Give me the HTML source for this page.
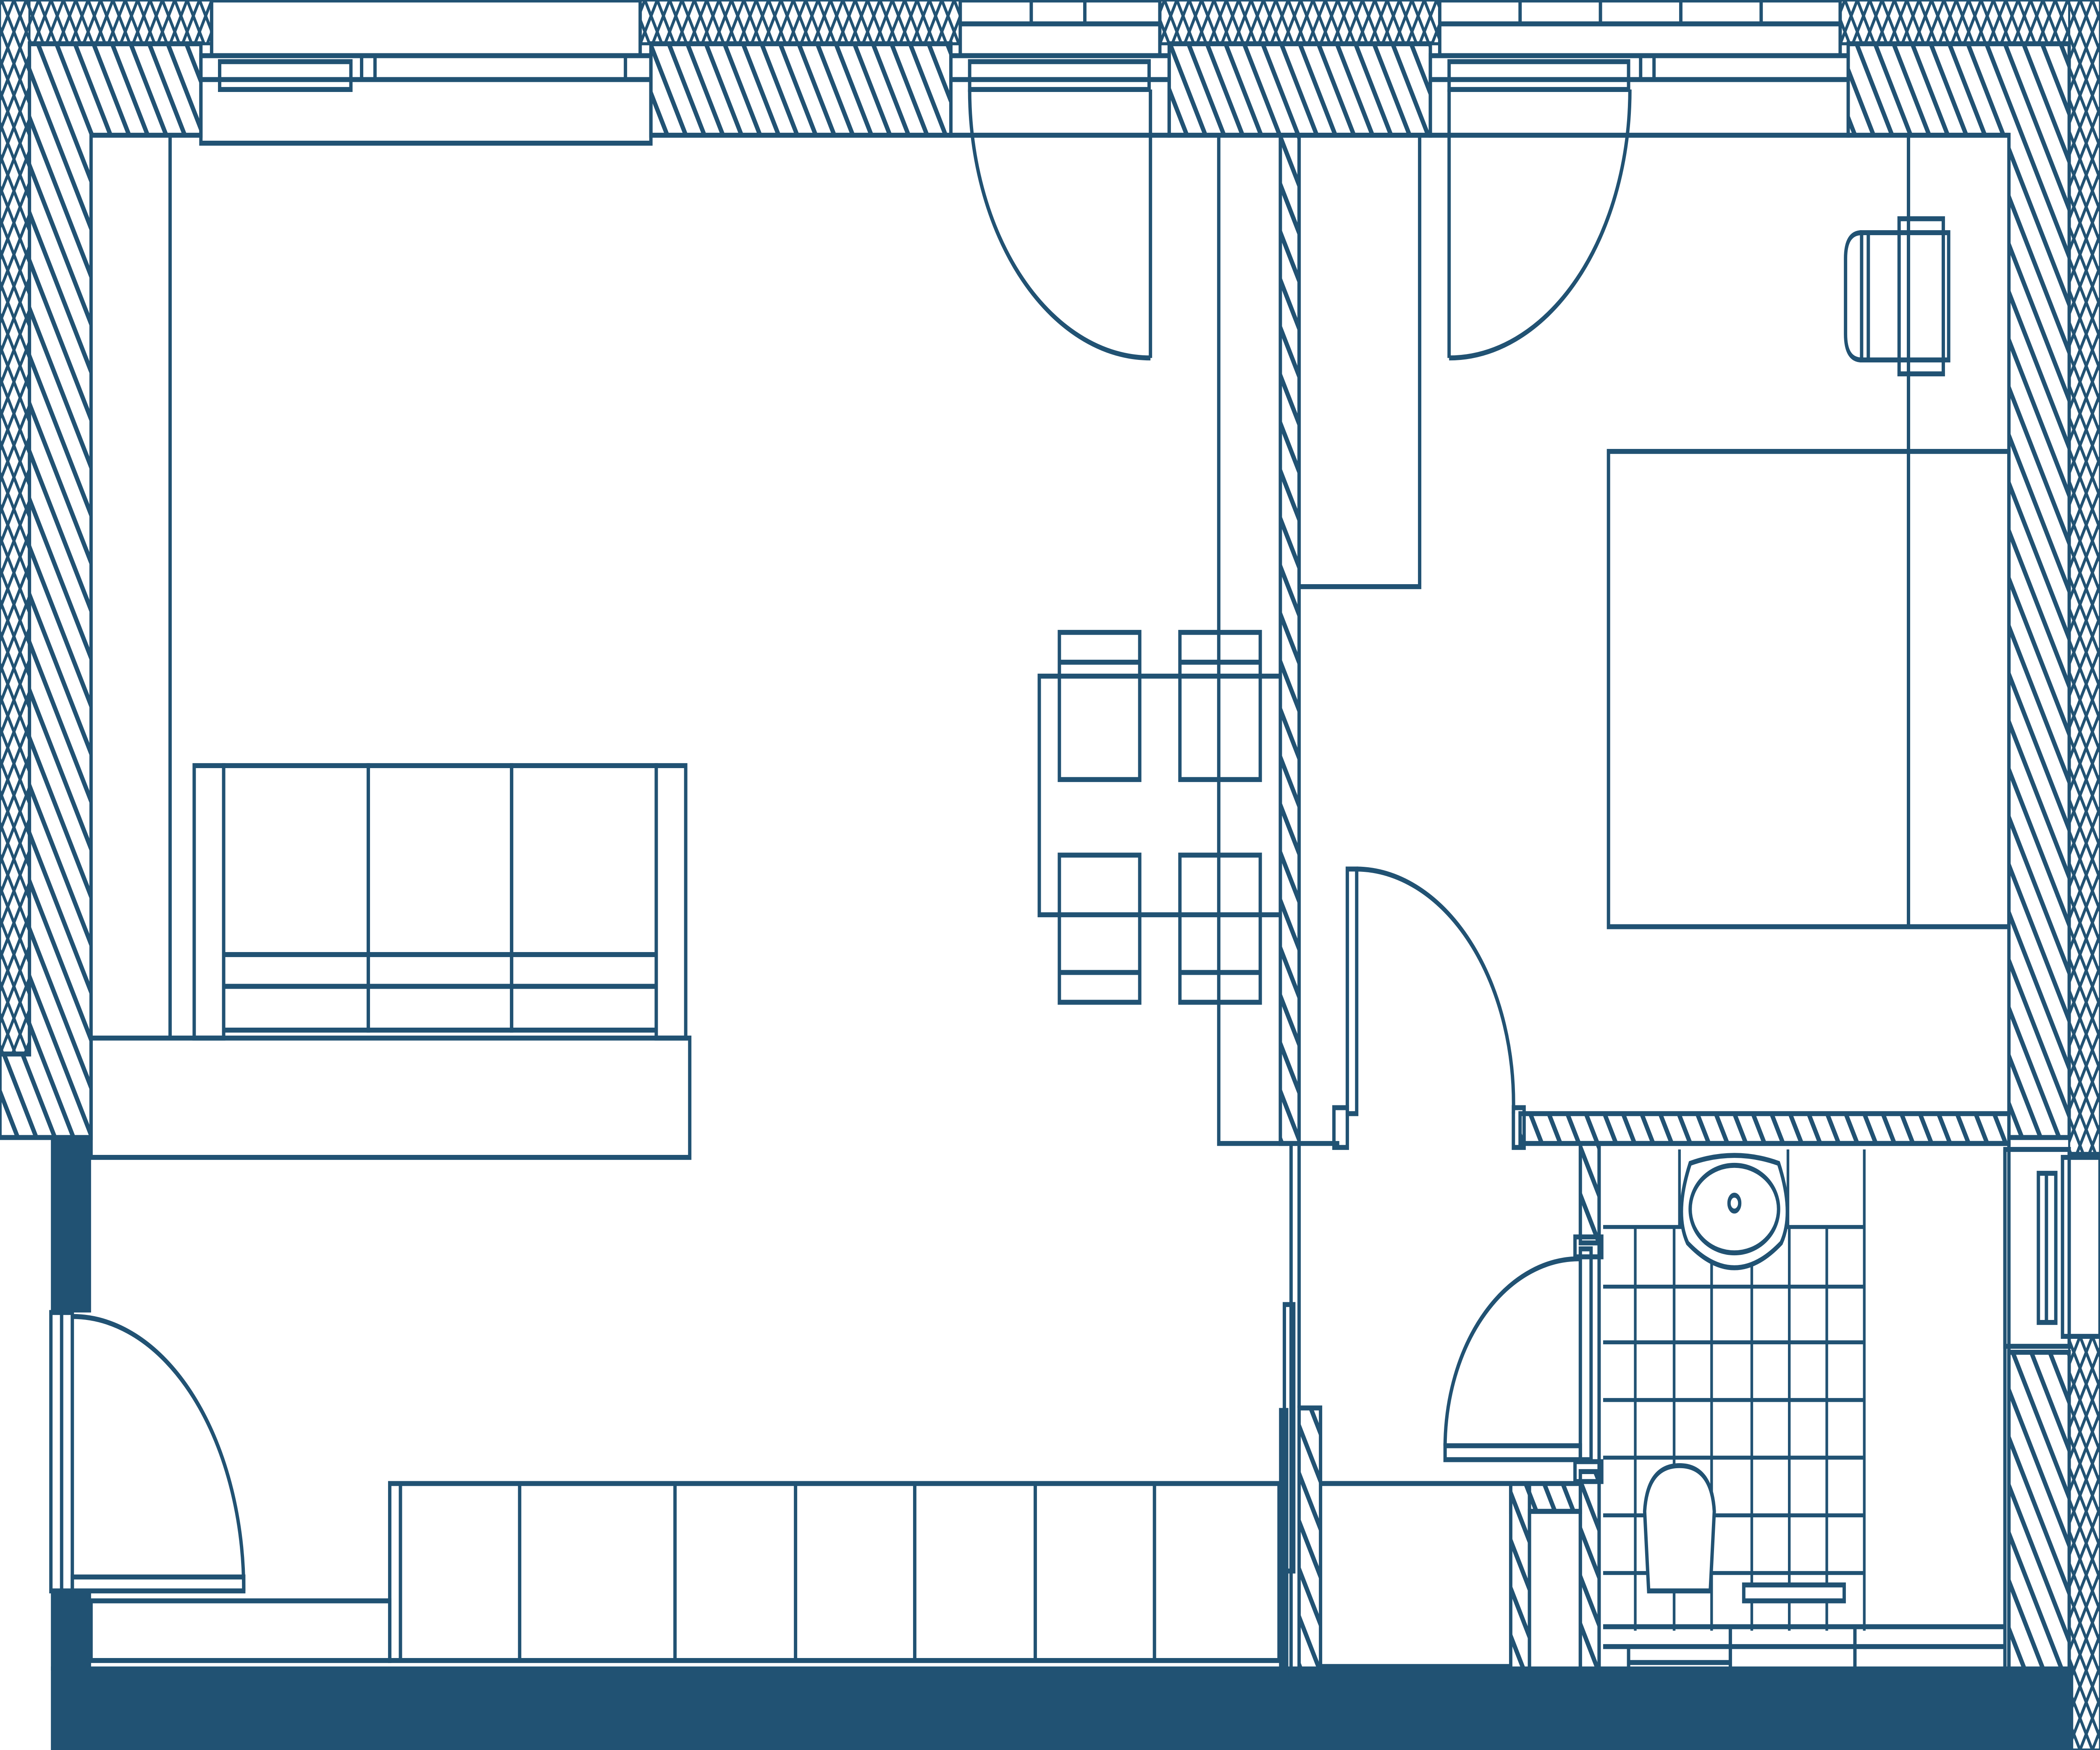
<!DOCTYPE html>
<html><head><meta charset="utf-8"><style>
html,body{margin:0;padding:0;background:#fff;width:100%;height:100%;overflow:hidden;}
svg{display:block;position:fixed;left:0;top:0;width:100vw;height:100vh;}
</style></head><body>
<svg viewBox="0 0 1568 880" preserveAspectRatio="none" xmlns="http://www.w3.org/2000/svg">
<defs>
<pattern id="d" patternUnits="userSpaceOnUse" width="12" height="12" patternTransform="rotate(-30)">
<rect width="12" height="12" fill="#fff"/><rect x="0" y="0" width="3" height="12" fill="#215273"/></pattern>
<pattern id="x" patternUnits="userSpaceOnUse" width="8" height="8" patternTransform="rotate(30)">
<rect width="8" height="8" fill="#fff"/><rect x="0" y="0" width="2" height="8" fill="#215273"/></pattern>
<pattern id="x2" patternUnits="userSpaceOnUse" width="8" height="8" patternTransform="rotate(-30)">
<rect x="0" y="0" width="2" height="8" fill="#215273"/></pattern>
</defs>
<g stroke="#215273" stroke-width="2.5" fill="none">
<g stroke-width="1.5">
<rect x="0" y="0" width="158" height="22" fill="url(#x)"/><rect x="0" y="0" width="158" height="22" fill="url(#x2)"/>
<rect x="478" y="0" width="239" height="22" fill="url(#x)"/><rect x="478" y="0" width="239" height="22" fill="url(#x2)"/>
<rect x="866" y="0" width="209" height="22" fill="url(#x)"/><rect x="866" y="0" width="209" height="22" fill="url(#x2)"/>
<rect x="1374" y="0" width="194" height="22" fill="url(#x)"/><rect x="1374" y="0" width="194" height="22" fill="url(#x2)"/>
<rect x="0" y="0" width="22" height="530" fill="url(#x)"/><rect x="0" y="0" width="22" height="530" fill="url(#x2)"/>
<rect x="1545" y="0" width="23" height="580" fill="url(#x)"/><rect x="1545" y="0" width="23" height="580" fill="url(#x2)"/>
<rect x="1545" y="672" width="23" height="208" fill="url(#x)"/><rect x="1545" y="672" width="23" height="208" fill="url(#x2)"/>
</g>
<path d="M22 22 H150 V68 H68 V572 H0 V530 H22 Z" fill="url(#d)"/>
<rect x="486" y="22" width="224" height="46" fill="url(#d)"/>
<rect x="873" y="22" width="195" height="46" fill="url(#d)"/>
<path d="M1380 22 H1545 V572 H1500 V68 H1380 Z" fill="url(#d)"/>
<rect x="1500" y="680" width="45" height="168" fill="url(#d)"/>
<rect x="956" y="68" width="14" height="507" fill="url(#d)"/>
<rect x="1135" y="560" width="365" height="15" fill="url(#d)"/>
<rect x="1180" y="575" width="14" height="50" fill="url(#d)"/>
<rect x="1180" y="740" width="14" height="108" fill="url(#d)"/>
<rect x="1128" y="746" width="52" height="14" fill="url(#d)"/>
<rect x="1128" y="746" width="14" height="102" fill="url(#d)"/>
<rect x="970" y="708" width="16" height="140" fill="url(#d)"/>
<rect x="38" y="838" width="1510" height="42" fill="#215273" stroke="none"/>
<rect x="38" y="572" width="30" height="88" fill="#215273" stroke="none"/>
<rect x="38" y="800" width="30" height="40" fill="#215273" stroke="none"/>
<rect x="955" y="708" width="7" height="135" fill="#215273" stroke="none"/>
<rect x="158" y="0" width="320" height="28"/>
<rect x="150" y="28" width="336" height="44"/>
<line x1="150" y1="40" x2="486" y2="40"/>
<rect x="164" y="31" width="98" height="14"/>
<line x1="270" y1="28" x2="270" y2="40"/><line x1="280" y1="28" x2="280" y2="40"/>
<line x1="467" y1="28" x2="467" y2="40"/>
<rect x="717" y="0" width="149" height="28"/><line x1="717" y1="12" x2="866" y2="12"/>
<line x1="770" y1="0" x2="770" y2="12"/><line x1="810" y1="0" x2="810" y2="12"/>
<rect x="710" y="28" width="163" height="40"/><line x1="710" y1="40" x2="873" y2="40"/>
<rect x="724" y="31" width="134" height="14"/>
<rect x="1075" y="0" width="299" height="28"/><line x1="1075" y1="12" x2="1374" y2="12"/>
<line x1="1135" y1="0" x2="1135" y2="12"/><line x1="1195" y1="0" x2="1195" y2="12"/><line x1="1255" y1="0" x2="1255" y2="12"/><line x1="1315" y1="0" x2="1315" y2="12"/>
<rect x="1068" y="28" width="312" height="40"/><line x1="1068" y1="40" x2="1380" y2="40"/>
<rect x="1082" y="31" width="134" height="14"/>
<line x1="1225" y1="28" x2="1225" y2="40"/><line x1="1235" y1="28" x2="1235" y2="40"/>
<line x1="127" y1="68" x2="127" y2="522"/>
<rect x="68" y="522" width="447" height="60"/>
<rect x="145" y="385" width="22" height="137"/><rect x="490" y="385" width="22" height="137"/>
<rect x="167" y="385" width="108" height="95"/><rect x="275" y="385" width="107" height="95"/><rect x="382" y="385" width="108" height="95"/>
<rect x="167" y="480" width="108" height="16"/><rect x="275" y="480" width="107" height="16"/><rect x="382" y="480" width="108" height="16"/>
<rect x="167" y="496" width="108" height="22"/><rect x="275" y="496" width="107" height="22"/><rect x="382" y="496" width="108" height="22"/>
<path d="M724 45 A135 135 0 0 0 859 180"/><line x1="859" y1="45" x2="859" y2="180"/>
<rect x="776" y="340" width="180" height="120"/>
<rect x="791" y="318" width="60" height="74"/><line x1="791" y1="333" x2="851" y2="333"/>
<rect x="881" y="318" width="60" height="74"/><line x1="881" y1="333" x2="941" y2="333"/>
<rect x="791" y="430" width="60" height="74"/><line x1="791" y1="489" x2="851" y2="489"/>
<rect x="881" y="430" width="60" height="74"/><line x1="881" y1="489" x2="941" y2="489"/>
<polyline points="910,68 910,575 1000,575"/>
<rect x="970" y="68" width="90" height="227"/>
<path d="M1217 45 A135 135 0 0 1 1082 180"/><line x1="1082" y1="45" x2="1082" y2="180"/>
<rect x="1201" y="227" width="299" height="239"/><line x1="1425" y1="68" x2="1425" y2="466"/>
<rect x="1390" y="117" width="65" height="64"/><rect x="1418" y="110" width="33" height="78"/>
<path d="M1390 117 Q1378 117 1378 130 V168 Q1378 181 1390 181"/><line x1="1395" y1="117" x2="1395" y2="181"/>
<line x1="1425" y1="68" x2="1500" y2="68"/>
<rect x="1006" y="437" width="7" height="123"/>
<path d="M1013 437 A118 118 0 0 1 1130 560"/>
<rect x="996" y="557" width="10" height="20"/><rect x="1130" y="557" width="8" height="20"/>
<line x1="970" y1="575" x2="970" y2="708"/>
<line x1="964" y1="575" x2="964" y2="848"/>
<rect x="959" y="656" width="7" height="134"/>
<line x1="986" y1="746" x2="1128" y2="746"/>
<line x1="986" y1="838" x2="1128" y2="838"/>
<rect x="1079" y="727" width="101" height="7"/>
<path d="M1079 727 A100 95 0 0 1 1180 633"/>
<rect x="1180" y="628" width="8" height="106"/>
<rect x="1176" y="622" width="20" height="10"/><rect x="1176" y="735" width="20" height="10"/>
<rect x="1142" y="760" width="38" height="88"/>
<rect x="1194" y="575" width="306" height="273"/>
<g stroke-width="2">
<line x1="1197" y1="617" x2="1392" y2="617"/>
<line x1="1197" y1="647" x2="1392" y2="647"/><line x1="1197" y1="675" x2="1392" y2="675"/>
<line x1="1197" y1="704" x2="1392" y2="704"/><line x1="1197" y1="733" x2="1392" y2="733"/>
<line x1="1197" y1="762" x2="1392" y2="762"/><line x1="1197" y1="791" x2="1392" y2="791"/>
<line x1="1221" y1="617" x2="1221" y2="820"/><line x1="1250" y1="617" x2="1250" y2="820"/>
<line x1="1278" y1="617" x2="1278" y2="820"/><line x1="1308" y1="617" x2="1308" y2="820"/>
<line x1="1336" y1="617" x2="1336" y2="820"/><line x1="1364" y1="617" x2="1364" y2="820"/>
<line x1="1392" y1="578" x2="1392" y2="820"/><line x1="1254" y1="578" x2="1254" y2="617"/><line x1="1335" y1="578" x2="1335" y2="617"/>
</g>
<path d="M1262 585 Q1295 577 1328 585 Q1340 610 1330 625 Q1295 650 1260 625 Q1250 610 1262 585 Z" fill="#fff"/>
<ellipse cx="1295" cy="608" rx="33" ry="22" fill="#fff"/>
<circle cx="1295" cy="605" r="4"/>
<path d="M1231 800 L1228 760 Q1230 737 1254 737 Q1278 737 1280 760 L1277 800 Z" fill="#fff"/>
<rect x="1302" y="797" width="75" height="8" fill="#fff"/>
<line x1="1197" y1="818" x2="1497" y2="818"/><line x1="1197" y1="828" x2="1497" y2="828"/>
<line x1="1292" y1="818" x2="1292" y2="848"/><line x1="1385" y1="818" x2="1385" y2="848"/>
<line x1="1216" y1="828" x2="1216" y2="848"/><line x1="1216" y1="836" x2="1292" y2="836"/>
<line x1="1497" y1="578" x2="1497" y2="848"/>
<rect x="1497" y="578" width="48" height="99"/>
<rect x="1522" y="590" width="13" height="75"/><line x1="1528" y1="590" x2="1528" y2="665"/>
<rect x="1540" y="582" width="28" height="90"/>
<rect x="38" y="660" width="16" height="140"/><line x1="46" y1="660" x2="46" y2="800"/>
<path d="M54 662 A128 138 0 0 1 182 800"/>
<rect x="54" y="793" width="128" height="7"/>
<rect x="68" y="805" width="223" height="30"/>
<rect x="291" y="746" width="664" height="89"/>
<line x1="299" y1="746" x2="299" y2="835"/>
<line x1="388" y1="746" x2="388" y2="835"/><line x1="504" y1="746" x2="504" y2="835"/>
<line x1="594" y1="746" x2="594" y2="835"/><line x1="683" y1="746" x2="683" y2="835"/>
<line x1="773" y1="746" x2="773" y2="835"/><line x1="862" y1="746" x2="862" y2="835"/>
</g>
</svg>
</body></html>
